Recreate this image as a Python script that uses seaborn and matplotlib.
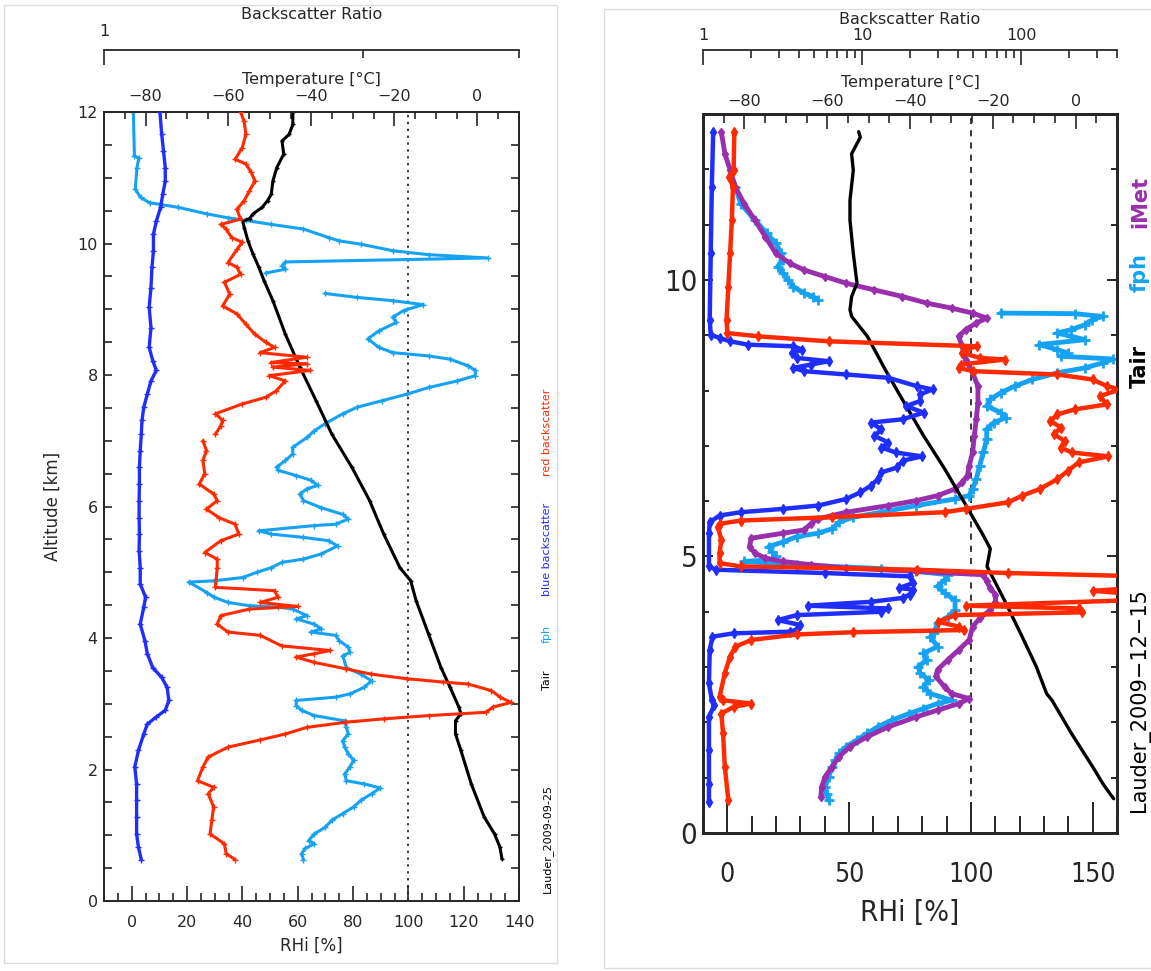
import numpy as np
import matplotlib
matplotlib.use("Agg")
import matplotlib.pyplot as plt
import seaborn as sns
from matplotlib.patches import Rectangle
from matplotlib.ticker import MultipleLocator, FixedLocator, FixedFormatter, NullFormatter

nan = np.nan

# ---------------- Lauder 2009-09-25 (left panel) ----------------
l_fph_alt = [12.0, 11.33, 11.30, 11.15, 10.83, 10.70, 10.62, 10.55, 10.45, 10.39, 10.35, 10.29, 10.22,
             10.09, 10.04, 9.99, 9.89, 9.83, 9.78, 9.72, 9.66, 9.61, 9.55, nan,
             9.24, 9.18, 9.13, 9.07, 8.98, 8.88, 8.80, 8.67, 8.55, 8.42, 8.34, 8.29, 8.24, 8.14, 8.07,
             7.99, 7.91, 7.81, 7.71, 7.61, 7.51, 7.41, 7.26, 7.15, 7.05, 6.90, 6.80, 6.70, 6.60, 6.55,
             6.47, 6.40, 6.32, 6.27, 6.19, 6.09, 5.98, 5.88, 5.81, 5.73, 5.71, 5.63, 5.58, 5.53, 5.48,
             5.40, 5.28, 5.20, 5.15, 5.07, 5.00, 4.92, 4.87, 4.85, 4.69, 4.62, 4.54, 4.49, 4.47, 4.44,
             4.34, 4.29, 4.21, 4.14, 4.09, 4.04, 3.96, 3.86, 3.78, 3.73, 3.55, 3.45, 3.35, 3.25, 3.15,
             3.10, 3.05, 2.97, 2.90, 2.82, 2.74, 2.64, 2.54, 2.44, 2.34, 2.24, 2.14, 2.04, 1.93, 1.83,
             1.78, 1.72, 1.63, 1.53, 1.43, 1.33, 1.23, 1.12, 1.02, 0.92, 0.87, 0.80, 0.72, 0.63]
l_fph_rhi = [0.6, 1.0, 2.6, 1.9, 1.3, 3.2, 6.5, 16.8, 27.2, 34.9, 41.4, 50.5, 62.1,
             71.2, 75.0, 82.8, 94.4, 107.4, 128.7, 55.6, 54.3, 55.6, 48.5, nan,
             69.9, 81.5, 94.4, 105.4, 98.3, 94.4, 95.7, 89.3, 85.4, 89.3, 94.4, 107.4, 115.1, 121.6, 124.2,
             124.2, 117.7, 107.4, 99.6, 90.6, 81.5, 76.3, 69.9, 66.0, 63.4, 58.2, 58.2, 55.6, 52.4, 53.0,
             59.5, 64.7, 67.3, 63.4, 60.8, 62.1, 68.6, 76.3, 78.3, 73.7, 66.0, 45.9, 50.5, 62.1, 71.2,
             74.4, 68.6, 62.1, 54.3, 50.5, 45.3, 40.1, 29.8, 20.7, 27.2, 29.8, 34.9, 42.7, 53.0, 58.2,
             63.4, 59.5, 66.0, 68.6, 64.7, 73.7, 75.0, 78.3, 78.9, 76.3, 77.6, 82.8, 86.7, 84.1, 78.9,
             73.7, 59.5, 59.5, 61.4, 66.0, 77.0, 77.6, 78.3, 76.3, 77.0, 78.3, 80.2, 78.9, 77.0, 77.6,
             84.1, 89.9, 86.7, 82.8, 80.2, 76.3, 72.4, 69.9, 66.0, 64.0, 66.0, 62.7, 61.4, 62.1]

l_tair_alt = [12.0, 11.81, 11.66, 11.56, 11.36, 11.15, 10.95, 10.75, 10.65, 10.55, 10.45, 10.38, 10.34,
              10.24, 10.04, 9.84, 9.64, 9.43, 9.13, 8.62, 8.12, 7.61, 7.10, 6.60, 6.09, 5.58, 5.07,
              4.87, 4.57, 4.06, 3.55, 3.25, 2.95, 2.85, 2.74, 2.54, 2.29, 1.78, 1.28, 1.02, 0.82, 0.64]
l_tair_temp = [-44.5, -44.5, -45.4, -47.1, -46.7, -48.4, -49.3, -49.7, -50.6, -51.9, -54.1, -54.9, -56.6,
               -56.2, -55.3, -54.1, -52.7, -51.4, -49.3, -46.3, -42.8, -38.9, -35.1, -30.3, -26.0, -22.6,
               -18.7, -16.1, -14.8, -11.8, -8.8, -6.6, -4.5, -4.0, -5.3, -5.3, -4.0, -1.5, 1.6, 4.1, 5.4, 5.9]

l_blue_alt = [12.0, 11.66, 11.41, 11.15, 10.95, 10.75, 10.55, 10.34, 10.14, 9.89, 9.64, 9.33, 9.03, 8.72,
              8.42, 8.22, 8.07, 7.91, 7.71, 7.51, 7.31, 7.10, 6.85, 6.60, 6.34, 6.09, 5.83, 5.58, 5.33,
              5.07, 4.82, 4.62, 4.47, 4.21, 3.96, 3.76, 3.55, 3.40, 3.25, 3.05, 2.90, 2.80, 2.69, 2.54,
              2.29, 2.04, 1.78, 1.53, 1.28, 1.02, 0.82, 0.63]
l_blue_bsr = [1.644, 1.670, 1.697, 1.724, 1.724, 1.686, 1.654, 1.592, 1.552, 1.552, 1.532, 1.518, 1.494,
              1.518, 1.494, 1.542, 1.592, 1.518, 1.470, 1.424, 1.402, 1.393, 1.380, 1.370, 1.370, 1.366,
              1.366, 1.370, 1.366, 1.380, 1.380, 1.447, 1.424, 1.380, 1.438, 1.470, 1.542, 1.670, 1.752,
              1.780, 1.724, 1.592, 1.470, 1.424, 1.358, 1.315, 1.336, 1.336, 1.336, 1.336, 1.358, 1.393]

l_red_alt = [12.0, 11.86, 11.66, 11.46, 11.28, 11.21, 11.08, 10.95, 10.80, 10.65, 10.52, 10.37, 10.29,
             10.22, 10.09, 10.02, 9.91, 9.71, 9.64, 9.53, 9.41, 9.23, 9.05, 8.93, 8.77, 8.62, 8.50, 8.42,
             8.34, 8.27, 8.19, 8.17, 8.12, 8.07, 7.99, 7.91, 7.76, 7.66, 7.56, 7.41, 7.31, 7.23, 7.10, nan,
             7.00, 6.85, 6.70, 6.50, 6.34, 6.19, 6.09, 5.96, 5.83, 5.73, 5.58, 5.48, 5.30, 5.20, 5.07,
             4.77, 4.72, 4.62, 4.54, 4.48, 4.44, 4.34, 4.21, 4.09, 4.04, 3.88, 3.81, 3.76, 3.71, 3.63,
             3.53, 3.45, 3.38, 3.33, 3.30, 3.20, 3.10, 3.02, 2.95, 2.87, 2.82, 2.77, 2.72, 2.64, 2.54,
             2.45, 2.34, 2.19, 2.04, 1.83, 1.73, 1.63, 1.43, 1.23, 1.02, 0.87, 0.72, 0.63]
l_red_bsr = [3.365, 3.474, 3.529, 3.419, 3.208, 3.529, 3.703, 3.823, 3.643, 3.474, 3.260, 3.365, 2.824,
             2.962, 3.107, 3.419, 3.260, 3.010, 3.260, 3.365, 2.916, 3.058, 2.870, 3.260, 3.529, 3.823,
             4.206, 4.554, 4.009, 6.066, 4.411, 6.066, 4.483, 6.263, 4.342, 5.010, 4.627, 4.206, 3.419,
             2.693, 2.870, 2.824, 2.693, nan,
             2.409, 2.487, 2.409, 2.448, 2.333, 2.650, 2.736, 2.487, 2.780, 3.208, 3.312, 2.824, 2.448,
             2.736, 2.736, 2.693, 4.554, 4.701, 4.009, 5.601, 3.643, 2.824, 2.736, 3.010, 4.009, 4.853,
             7.461, 6.464, 5.513, 6.464, 8.610, 10.76, 14.80, 20.34, 25.43, 31.27, 33.86, 37.25, 31.78,
             29.82, 17.91, 12.03, 8.610, 6.066, 5.010, 4.009, 3.010, 2.526, 2.409, 2.296, 2.650, 2.526,
             2.650, 2.608, 2.567, 2.916, 2.962, 3.208]

# ---------------- Lauder 2009-12-15 (right panel) ----------------
r_blue_alt = [12.68, 11.68, 10.48, 9.28, 9.01, 8.95, 8.89, 8.83, 8.80, 8.74, 8.68, 8.59, 8.53, 8.47, 8.41,
              8.35, 8.29, 8.23, 8.08, 8.02, 7.93, 7.81, 7.72, 7.60, 7.48, 7.42, 7.30, 7.18, 7.06, 6.97,
              6.88, 6.81, 6.73, 6.61, 6.52, 6.40, 6.28, 6.16, 6.04, 5.92, 5.86, 5.80, 5.74, 5.62, 5.42,
              4.82, 4.76, 4.70, 4.64, 4.52, 4.43, 4.40, 4.31, 4.25, 4.18, 4.11, 4.06, 4.00, 3.94, 3.85,
              3.76, 3.68, 3.64, 3.61, 3.55, 3.31, 2.71, 2.40, 2.31, 2.10, 1.50, 0.89, 0.56]
r_blue_bsr = [1.159, 1.136, 1.118, 1.102, 1.118, 1.271, 1.480, 1.910, 3.704, 4.206, 3.611, 3.896, 6.164,
              4.777, 3.704, 4.315, 7.952, 14.65, 22.03, 27.70, 23.18, 23.18, 18.90, 24.39, 17.96, 11.36,
              13.23, 11.95, 14.65, 13.23, 16.23, 23.78, 17.96, 16.65, 13.23, 12.58, 11.36, 9.748, 7.952,
              5.290, 3.178, 1.725, 1.271, 1.102, 1.090, 1.090, 1.207, 5.856, 19.89, 20.94, 17.07, 20.94,
              19.89, 17.96, 11.36, 4.540, 14.65, 13.23, 3.896, 2.944, 4.100, 3.896, 3.520, 1.557, 1.147,
              1.102, 1.090, 1.136, 1.177, 1.090, 1.090, 1.090, 1.090]

r_red_alt = [12.68, 11.98, 11.86, 11.68, 11.08, 10.48, 9.88, 9.28, 9.04, 8.98, 8.89, 8.80, 8.74, 8.68,
             8.59, 8.56, 8.47, 8.41, 8.35, 8.29, 8.20, 8.08, 8.02, 7.90, 7.75, 7.66, 7.57, 7.45, 7.33,
             7.21, 7.09, 6.97, 6.88, 6.81, 6.70, 6.55, 6.40, 6.22, 6.10, 5.98, 5.86, 5.80, 5.71, 5.65,
             5.59, 5.54, 5.30, 5.06, 4.88, 4.82, 4.76, 4.70, 4.64, 4.44, 4.38, 4.32, 4.21, 4.11, 4.06,
             3.99, 3.94, 3.82, 3.73, 3.67, 3.63, 3.59, 3.49, 3.37, 3.19, 2.89, 2.46, 2.40, 2.34, 2.28,
             2.16, 1.80, 1.20, 0.59]
r_red_bsr = [1.574, 1.557, 1.465, 1.542, 1.518, 1.480, 1.443, 1.406, 1.421, 2.225, 6.164, 52.36, 44.96,
             42.71, 55.11, 78.71, 41.65, 40.60, 49.77, 169.0, 281.3, 344.8, 420.0, 311.5, 344.8, 218.0,
             169.0, 152.6, 177.8, 160.6, 187.2, 177.8, 207.2, 353.7, 229.5, 197.0, 169.0, 131.0, 101.5,
             82.81, 44.96, 33.11, 6.486, 1.725, 1.271, 1.239, 1.303, 1.271, 1.271, 1.725, 22.03, 82.81,
             600.0, 600.0, 281.3, 500.0, 500.0, 44.96, 229.5, 241.5, 38.6, 29.9, 40.6, 43.8, 8.806,
             3.896, 2.010, 1.598, 1.480, 1.371, 1.271, 1.337, 2.010, 1.557, 1.303, 1.337, 1.371, 1.443]

r_fph_alt = [11.68, 11.38, 11.08, 10.84, 10.66, 10.48, 10.36, 10.24, 10.12, 10.00, 9.88, 9.76, 9.70, 9.64,
             nan,
             9.40, 9.39, 9.34, 9.28, 9.19, 9.10, 9.04, 8.92, 8.83, 8.74, 8.68, 8.62, 8.57, 8.50, 8.41,
             8.32, 8.20, 8.08, 7.96, 7.84, 7.72, 7.60, 7.51, 7.42, 7.30, 7.12, 6.88, 6.64, 6.40, 6.22,
             6.10, 6.04, 5.92, 5.80, 5.71, 5.62, 5.50, 5.42, 5.36, 5.26, 5.18, 5.08, 5.00, 4.94, 4.91,
             4.85, 4.78, 4.73, 4.67, 4.58, 4.46, 4.34, 4.21, 4.03, 3.91, 3.79, 3.61, 3.55, 3.37, 3.25,
             3.13, 3.01, 2.89, 2.77, 2.64, 2.52, 2.40, 2.34, 2.25, 2.16, 2.04, 1.92, 1.80, 1.68, 1.56,
             1.44, 1.32, 1.20, 1.01, 0.83, 0.71, 0.59]
r_fph_rhi = [3.3, 5.5, 11.3, 16.3, 19.9, 22.1, 22.8, 20.6, 22.8, 25.0, 27.1, 31.5, 35.1, 37.2,
             nan,
             112.3, 142.6, 154.1, 149.8, 146.9, 141.1, 135.4, 146.9, 128.1, 135.4, 139.7, 136.8, 158.4,
             154.1, 146.9, 135.4, 125.3, 118.0, 112.3, 107.9, 106.5, 112.3, 114.4, 109.4, 106.5, 106.5,
             105.1, 103.6, 102.2, 100.7, 99.3, 93.5, 77.6, 63.2, 51.7, 45.9, 43.0, 37.2, 28.6, 22.8, 17.0,
             18.5, 19.9, 18.5, 6.9, 28.6, 63.2, 77.6, 90.6, 89.2, 86.3, 89.2, 93.5, 93.5, 90.6, 86.3,
             84.8, 83.4, 86.3, 80.5, 82.0, 78.4, 79.1, 82.7, 80.5, 83.4, 92.1, 86.3, 80.5, 74.7, 67.5,
             61.8, 57.4, 53.1, 48.8, 45.9, 44.4, 43.0, 41.6, 40.1, 40.8, 41.6]

r_imet_alt = [12.68, 12.28, 11.98, 11.68, 11.38, 11.08, 10.78, 10.48, 10.30, 10.18, 10.06, 9.94, 9.82,
              9.70, 9.58, 9.49, 9.40, 9.31, 9.22, 9.10, 8.98, 8.80, 8.56, 8.32, 8.08, 7.78, 7.48, 7.18,
              6.88, 6.64, 6.46, 6.34, 6.22, 6.10, 6.01, 5.92, 5.80, 5.68, 5.59, 5.48, 5.42, 5.33, 5.18,
              5.06, 4.97, 4.91, 4.85, 4.79, 4.73, 4.67, 4.55, 4.43, 4.31, 4.18, 4.03, 3.88, 3.73, 3.49,
              3.31, 3.13, 2.95, 2.83, 2.64, 2.52, 2.43, 2.34, 2.22, 2.10, 1.92, 1.74, 1.56, 1.38, 1.20,
              1.01, 0.83, 0.65]
r_imet_rhi = [-2.5, -1.0, 1.2, 3.3, 6.9, 11.3, 15.6, 19.9, 25.7, 31.5, 40.1, 48.8, 60.3, 71.9, 82.0, 92.1,
              100.7, 106.5, 102.2, 97.8, 95.0, 96.4, 97.8, 100.7, 102.9, 102.9, 102.2, 101.4, 100.7, 99.3,
              98.6, 96.4, 93.5, 86.3, 77.6, 66.1, 48.8, 37.2, 34.3, 31.5, 22.8, 9.8, 9.1, 11.3, 15.6,
              22.8, 34.3, 48.8, 77.6, 105.1, 106.5, 107.9, 110.1, 110.1, 107.9, 103.6, 100.7, 99.3, 95.0,
              90.5, 86.3, 85.6, 89.2, 92.1, 99.3, 95.0, 86.3, 77.6, 66.1, 57.4, 50.2, 45.9, 43.0, 40.1,
              38.7, 38.4]

r_tair_alt = [12.68, 12.58, 12.28, 11.98, 11.44, 11.08, 10.48, 9.94, 9.70, 9.46, 9.34, 8.98, 8.38, 7.78,
              7.18, 6.58, 5.98, 5.38, 5.14, 4.82, 4.21, 3.61, 3.01, 2.52, 2.40, 1.80, 1.20, 0.89, 0.71, 0.62]
r_tair_temp = [-52.4, -52.0, -54.1, -53.7, -54.5, -54.5, -53.7, -52.8, -54.1, -54.5, -54.1, -50.3, -46.0,
               -41.4, -36.7, -31.6, -26.9, -22.3, -20.6, -21.4, -17.2, -13.3, -9.5, -7.0, -5.7, -1.0,
               4.1, 6.6, 8.3, 9.2]

# tick labels of the right panel
r_rhi_ticks = [0, 50, 100, 150]
r_alt_ticks = [0, 5, 10]

LBLUE = "#16a2f2"
DBLUE = "#1f2dff"
RED = "#ff2a00"
PURPLE = "#9a2fae"
NARROW = ["Liberation Sans Narrow", "DejaVu Sans"]

sns.set_style("ticks")
plt.rcParams["font.family"] = ["DejaVu Sans"]

W, H = 1151, 971
fig = plt.figure(figsize=(W / 100, H / 100), dpi=100)


def fig_box(x0, y0, x1, y1):
    return [x0 / W, 1 - y1 / H, (x1 - x0) / W, (y1 - y0) / H]


def profile(ax, vals, alts, color, lw, marker, ms, mew=1.0):
    vals = np.asarray(vals, float)
    alts = np.asarray(alts, float)
    cut = np.flatnonzero(np.isnan(vals))
    for s, e in zip(np.r_[0, cut + 1], np.r_[cut, len(vals)]):
        sns.lineplot(x=vals[s:e], y=alts[s:e], sort=False, estimator=None, ax=ax,
                     color=color, linewidth=lw, marker=marker, markersize=ms,
                     markeredgecolor=color, markerfacecolor=color, markeredgewidth=mew)


# gray frames around the two panels
fig.patches.append(Rectangle((4 / W, 1 - 963 / H), 553 / W, 958 / H, transform=fig.transFigure,
                             fill=False, edgecolor="#dcdcdc", lw=1))
fig.patches.append(Rectangle((604 / W, 1 - 968 / H), 560 / W, 959 / H, transform=fig.transFigure,
                             fill=False, edgecolor="#dcdcdc", lw=1))

# ======================= left panel =======================
axL = fig.add_axes(fig_box(104, 112, 519, 901))
tL = axL.twiny()
bL = axL.twiny()
bL.set_xscale("log")

profile(axL, l_fph_rhi, l_fph_alt, LBLUE, 2.2, "+", 4.5)
profile(tL, l_tair_temp, l_tair_alt, "black", 2.2, "+", 3)
profile(bL, l_blue_bsr, l_blue_alt, DBLUE, 2.4, "+", 4.5)
profile(bL, l_red_bsr, l_red_alt, RED, 2.2, "+", 4.5)
axL.axvline(100, color="black", lw=1.1, ls=(0, (1.5, 3)), zorder=0)

axL.set_xlim(-10, 140)
axL.set_ylim(0, 12)
tL.set_xlim(-90, 10)
bL.set_xlim(1, 40)

for a in (axL, tL, bL):
    for sp in a.spines.values():
        sp.set_linewidth(1.3)
axL.xaxis.set_major_locator(MultipleLocator(20))
axL.xaxis.set_minor_locator(MultipleLocator(5))
axL.yaxis.set_major_locator(MultipleLocator(2))
axL.yaxis.set_minor_locator(MultipleLocator(0.5))
axL.tick_params(axis="x", which="both", direction="in", bottom=True, top=False, labelsize=11.5, pad=10)
axL.tick_params(axis="x", which="major", length=11, width=1.2)
axL.tick_params(axis="x", which="minor", length=5.5, width=1.2)
axL.tick_params(axis="y", which="both", direction="in", left=True, right=True, labelsize=11.5,
                pad=4.5, length=6, width=1.2)
axL.set_xlabel("RHi [%]", fontsize=12, labelpad=5)
axL.set_ylabel("Altitude [km]", fontsize=12, labelpad=11)

tL.xaxis.set_major_locator(MultipleLocator(20))
tL.xaxis.set_minor_locator(MultipleLocator(5))
tL.tick_params(axis="x", which="both", direction="in", top=True, bottom=False, labelsize=11.5, pad=5.5)
tL.tick_params(axis="x", which="major", length=10, width=1.2)
tL.tick_params(axis="x", which="minor", length=5, width=1.2)
tL.set_xlabel("Temperature [°C]", fontsize=11.5, labelpad=4)

for side in ("left", "right", "bottom"):
    bL.spines[side].set_visible(False)
bL.spines["top"].set_position(("outward", 44.6))
bL.xaxis.set_major_locator(FixedLocator([1]))
bL.xaxis.set_major_formatter(FixedFormatter(["1"]))
bL.xaxis.set_minor_locator(FixedLocator([10, 40]))
bL.xaxis.set_minor_formatter(NullFormatter())
bL.tick_params(axis="x", which="both", direction="in", top=True, bottom=False, labelsize=11.5, pad=8)
bL.tick_params(axis="x", which="major", length=11, width=1.2)
bL.tick_params(axis="x", which="minor", length=6, width=1.2)
bL.set_xlabel("Backscatter Ratio", fontsize=11.5, labelpad=3.5)
axL.set_ylim(0, 12)

left_tags = [("red backscatter", RED, 432), ("blue backscatter", DBLUE, 549),
             ("fph", LBLUE, 634), ("Tair", "black", 680), ("Lauder_2009-09-25", "black", 838)]
for txt, col, yc in left_tags:
    fig.text(547 / W, 1 - yc / H, txt, color=col, fontsize=8, rotation=90, ha="center", va="center")

# ======================= right panel =======================
axR = fig.add_axes(fig_box(703, 114, 1117, 833))
tR = axR.twiny()
bR = axR.twiny()
bR.set_xscale("log")

profile(axR, r_fph_rhi, r_fph_alt, LBLUE, 3.5, "+", 7, 2)
profile(axR, r_imet_rhi, r_imet_alt, PURPLE, 3.5, "d", 4.5)
profile(tR, r_tair_temp, r_tair_alt, "black", 2.4, None, 0)
profile(bR, r_blue_bsr, r_blue_alt, DBLUE, 3.2, "d", 5)
profile(bR, r_red_bsr, r_red_alt, RED, 3.2, "d", 5)
axR.axvline(100, color="black", lw=1.1, ls=(0, (4, 4)), zorder=0)

axR.set_xlim(-10, 160)
axR.set_ylim(0, 13)
tR.set_xlim(-90, 10)
bR.set_xlim(1, 400)

for a in (axR, tR, bR):
    for sp in a.spines.values():
        sp.set_linewidth(2)
narrow_font = dict(family=NARROW, stretch="condensed")
axR.set_xticks(r_rhi_ticks, labels=[str(v) for v in r_rhi_ticks], fontsize=19, **narrow_font)
axR.set_yticks(r_alt_ticks, labels=[str(v) for v in r_alt_ticks], fontsize=21, **narrow_font)
axR.xaxis.set_minor_locator(MultipleLocator(10))
axR.yaxis.set_minor_locator(MultipleLocator(1))
axR.tick_params(axis="x", which="both", direction="in", bottom=True, top=False, pad=21)
axR.tick_params(axis="x", which="major", length=22, width=1.4)
axR.tick_params(axis="x", which="minor", length=12, width=1.4)
axR.tick_params(axis="y", which="both", direction="in", left=True, right=True, pad=4, width=1.4)
axR.tick_params(axis="y", which="major", length=7)
axR.tick_params(axis="y", which="minor", length=4)
axR.set_xlabel("RHi [%]", fontsize=21, labelpad=8, **narrow_font)

tR.xaxis.set_major_locator(MultipleLocator(20))
tR.xaxis.set_minor_locator(MultipleLocator(5))
tR.tick_params(axis="x", which="both", direction="in", top=True, bottom=False, labelsize=11.5, pad=3.6)
tR.tick_params(axis="x", which="major", length=11, width=1.2)
tR.tick_params(axis="x", which="minor", length=6.5, width=1.2)
tR.set_xlabel("Temperature [°C]", fontsize=11.5, labelpad=5)

for side in ("left", "right", "bottom"):
    bR.spines[side].set_visible(False)
bR.spines["top"].set_position(("outward", 46))
bR.spines["top"].set_linewidth(1.3)
bR.xaxis.set_major_locator(FixedLocator([1, 10, 100]))
bR.xaxis.set_major_formatter(FixedFormatter(["1", "10", "100"]))
bR.xaxis.set_minor_locator(FixedLocator([2, 3, 4, 5, 6, 7, 8, 9, 20, 30, 40, 50, 60, 70, 80, 90,
                                         200, 300, 400]))
bR.xaxis.set_minor_formatter(NullFormatter())
bR.tick_params(axis="x", which="both", direction="in", top=True, bottom=False, labelsize=11.5, pad=5)
bR.tick_params(axis="x", which="major", length=11, width=1.2)
bR.tick_params(axis="x", which="minor", length=5.5, width=1.2)
bR.set_xlabel("Backscatter Ratio", fontsize=11.5, labelpad=3)
axR.set_ylim(0, 13)

right_tags = [("iMet", PURPLE, 202, "bold"), ("fph", LBLUE, 272, "bold"),
              ("Tair", "black", 367, "bold"), ("Lauder_2009−12−15", "black", 700, "normal")]
for txt, col, yc, wt in right_tags:
    fig.text(1140 / W, 1 - yc / H, txt, color=col, fontsize=15, fontweight=wt, rotation=90,
             ha="center", va="center")

fig.savefig("out.png", dpi=100)
